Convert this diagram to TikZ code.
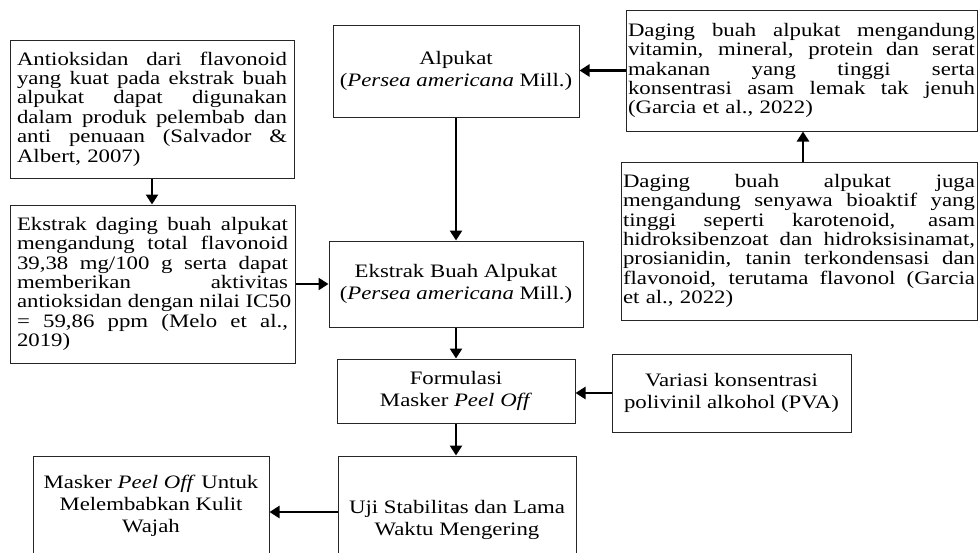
\documentclass[tikz,border=0pt]{standalone}
\usepackage{fontspec}
\setmainfont{Liberation Serif}[FakeStretch=1.2]
\usetikzlibrary{arrows.meta}
\setlength\parindent{0pt}
\newdimen\jw
\newcommand\jl[1]{\hbox to\jw{\spaceskip=\fontdimen2\font plus 1fil\relax
  \xspaceskip=\spaceskip #1}}
\newcommand\lastln[1]{\hbox to\jw{#1\hfil}}
\begin{document}
\begin{tikzpicture}[x=1pt,y=-1pt,
  jbox/.style={draw=black!85, line width=1pt, inner xsep=7pt, inner ysep=0pt,
    font=\fontsize{19pt}{19.4pt}\selectfont, align=left},
  cbox/.style={draw=black!85, line width=1pt, inner sep=0pt,
    font=\fontsize{19pt}{22pt}\selectfont, align=center},
  arr/.style={line width=2.8pt, -{Triangle[length=10pt,width=12pt]}}]
\useasboundingbox (0,0) rectangle (979,552);
\clip (0,0) rectangle (979,552);

% left column
\node[jbox, text width=270pt, minimum height=138pt] (A) at (152,109) {%
\jw=270pt\vbox{%
\jl{Antioksidan dari flavonoid}
\jl{yang kuat pada ekstrak buah}
\jl{alpukat dapat digunakan}
\jl{dalam produk pelembab dan}
\jl{anti penuaan (Salvador \&}
\lastln{Albert, 2007)}}};

\node[jbox, text width=271pt, minimum height=158pt] (B) at (152.5,284) {%
\jw=271pt\vbox{%
\jl{Ekstrak daging buah alpukat}
\jl{mengandung total flavonoid}
\jl{39,38 mg/100 g serta dapat}
\jl{memberikan aktivitas}
\jl{antioksidan dengan nilai IC50}
\jl{= 59,86 ppm (Melo et al.,}
\lastln{2019)}}};

% centre column
\node[cbox, minimum width=246pt, minimum height=92pt] (Alp) at (456,71)
  {Alpukat\\(\textit{Persea americana} Mill.)};
\node[cbox, minimum width=254pt, minimum height=86pt] (Eks) at (456,284)
  {Ekstrak Buah Alpukat\\(\textit{Persea americana} Mill.)};
\node[cbox, minimum width=238pt, minimum height=64pt] (F) at (456,391)
  {Formulasi\\Masker \textit{Peel Off}};
\node[cbox, minimum width=238pt, minimum height=128pt] (U) at (457,520)
  {Uji Stabilitas dan Lama\\Waktu Mengering};
\node[cbox, minimum width=236pt, minimum height=100pt] (M) at (151,506)
  {Masker \textit{Peel Off} Untuk\\Melembabkan Kulit\\Wajah};

% right column
\node[jbox, inner xsep=2pt, text width=347pt, minimum height=121pt] (R1) at (801.5,70.5) {%
\jw=347pt\vbox{%
\jl{Daging buah alpukat mengandung}
\jl{vitamin, mineral, protein dan serat}
\jl{makanan yang tinggi serta}
\jl{konsentrasi asam lemak tak jenuh}
\lastln{(Garcia et al., 2022)}}};

\node[jbox, inner xsep=2pt, text width=352pt, minimum height=158pt] (R2) at (799,241) {%
\jw=352pt\vbox{%
\jl{Daging buah alpukat juga}
\jl{mengandung senyawa bioaktif yang}
\jl{tinggi seperti karotenoid, asam}
\jl{hidroksibenzoat dan hidroksisinamat,}
\jl{prosianidin, tanin terkondensasi dan}
\jl{flavonoid, terutama flavonol (Garcia}
\lastln{et al., 2022)}}};

\node[cbox, minimum width=239pt, minimum height=78pt] (V) at (731.5,393)
  {Variasi konsentrasi\\polivinil alkohol (PVA)};

% connectors
\draw[arr] (A.south) -- (A.south |- B.north);
\draw[arr] (B.east) -- (B.east -| Eks.west);
\draw[arr] (Alp.south) -- (Alp.south |- Eks.north);
\draw[arr] (R1.west) -- (R1.west -| Alp.east);
\draw[arr] ([xshift=4pt]R2.north) -- ([xshift=4pt]R2.north |- R1.south);
\draw[arr] (Eks.south) -- (Eks.south |- F.north);
\draw[arr] (V.west) -- (V.west -| F.east);
\draw[arr] (F.south) -- (F.south |- U.north);
\draw[arr] ([yshift=8pt]U.west) -- ([yshift=8pt]U.west -| M.east);
\end{tikzpicture}
\end{document}
